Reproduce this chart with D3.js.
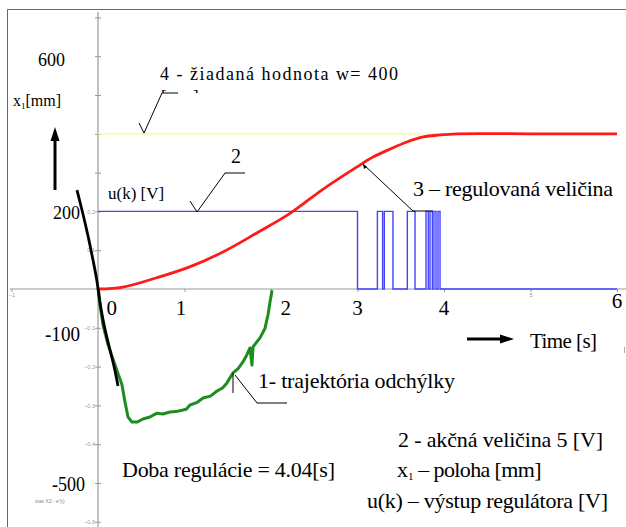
<!DOCTYPE html>
<html>
<head>
<meta charset="utf-8">
<script src="https://cdn.jsdelivr.net/npm/d3@7"></script>
<style>
  body { margin: 0; background: #fff; }
  text { font-family: "Liberation Serif", "Times New Roman", serif; }
</style>
</head>
<body>
<div id="chart"></div>
<script>
// --- data (time in s, values in scaled units: 0.1 = 100 mm / 1 V) ---
const setpoint = 0.4;

const posTime = [0, 0.29, 0.68, 1.06, 1.45, 1.84, 2.22, 2.6, 2.99, 3.18, 3.38, 3.57, 3.76, 3.95, 4.15, 5, 6];
const posValue = [0, 0.005, 0.029, 0.057, 0.096, 0.145, 0.195, 0.257, 0.314, 0.34, 0.361, 0.379, 0.392, 0.397, 0.4, 0.4, 0.4];

const uTime = [0, 3.0, 3.23, 3.29, 3.31, 3.41, 3.576, 3.665, 3.792, 3.818, 3.838, 3.865, 3.884, 3.908, 3.931, 3.954, 6];
const uValue = [0.2, 0, 0.2, 0, 0.2, 0, 0.2, 0, 0.2, 0, 0.2, 0, 0.2, 0, 0.2, 0, 0];

const errX = [0.003, 0.023, 0.058, 0.116, 0.197, 0.277, 0.312, 0.347, 0.393, 0.451, 0.52, 0.6, 0.682, 0.75, 0.832, 0.9, 0.983, 1.02, 1.064, 1.14, 1.214, 1.3, 1.376, 1.44, 1.491, 1.561, 1.62, 1.676, 1.72, 1.757, 1.78, 1.792, 1.873, 1.931, 1.965, 1.988, 2.012];
const errY = [0.003, -0.041, -0.093, -0.144, -0.196, -0.247, -0.291, -0.33, -0.343, -0.343, -0.335, -0.33, -0.32, -0.322, -0.317, -0.316, -0.312, -0.31, -0.299, -0.293, -0.281, -0.276, -0.263, -0.255, -0.242, -0.216, -0.205, -0.188, -0.17, -0.152, -0.196, -0.149, -0.126, -0.101, -0.067, -0.034, -0.003];

const slideX = [-0.243, -0.185, -0.116, -0.058, -0.012, 0, 0.035, 0.081, 0.139, 0.197, 0.231];
const slideY = [0.255, 0.204, 0.139, 0.075, 0.023, 0, -0.054, -0.106, -0.157, -0.209, -0.25];

const xTicks = [-1, 0, 1, 2, 3, 4, 5, 6];
const xTickLabelled = [-1, 2, 5];
const yTicks = [-0.6, -0.5, -0.4, -0.3, -0.2, -0.1, 0.1, 0.2, 0.3, 0.4, 0.5, 0.6, 0.7];
const yTickLabelled = [-0.6, -0.4, -0.3, -0.2, -0.1, 0.1, 0.2];
const timeLabels = ["0", "1", "2", "3", "4", "6"];
const timeLabelAt = [0.16, 0.96, 2.17, 3.0, 4.0, 6.0];

const width = 626, height = 527;

const svg = d3.select('#chart').append('svg')
    .attr('width', width)
    .attr('height', height);

svg.append('rect').attr('width', width).attr('height', height).attr('fill', '#fff');

const x = d3.scaleLinear().domain([0, 6]).range([98, 617]);
const y = d3.scaleLinear().domain([0, 0.1]).range([289, 250.2]);

// frame
svg.append('path')
    .attr('d', 'M7.5,527 V9.5 H626')
    .attr('fill', 'none')
    .attr('stroke', '#666')
    .attr('stroke-width', 1);

// axes
const xAxis = d3.axisBottom(x).tickValues(xTicks).tickSize(3)
    .tickFormat(d => xTickLabelled.includes(d) ? d3.format('d')(d) : '');
const yAxis = d3.axisLeft(y).tickValues(yTicks).tickSize(3)
    .tickFormat(d => yTickLabelled.some(v => Math.abs(v - d) < 1e-9) ? d3.format('.1f')(d) : '');

const gx = svg.append('g').attr('transform', `translate(0,${y(0)})`).call(xAxis);
gx.select('.domain').attr('d', `M10,0H${width}`);
const gy = svg.append('g').attr('transform', `translate(${x(0)},0)`).call(yAxis);
gy.select('.domain').attr('d', `M0,12V${height}`);
gy.selectAll('.tick line').attr('x1', 3);

[gx, gy].forEach(g => {
    g.select('.domain').attr('stroke', '#999').attr('stroke-width', 1.2);
    g.selectAll('.tick line').attr('stroke', '#999');
    g.selectAll('.tick text').attr('fill', '#999').style('font-size', '5.5px').style('font-family', 'Arial, sans-serif');
});
gx.selectAll('.tick text').attr('y', 4);
gy.selectAll('.tick text').attr('x', -3);

// curves
const line = d3.line().x(d => x(d[0])).y(d => y(d[1]));

svg.append('path')
    .attr('d', line([[0, setpoint], [6, setpoint]]))
    .attr('fill', 'none').attr('stroke', '#ffff88').attr('stroke-width', 1.6);

svg.append('path')
    .attr('d', line.curve(d3.curveStepAfter)(uTime.map((t, i) => [t, uValue[i]])))
    .attr('fill', 'none').attr('stroke', '#4444ff').attr('stroke-width', 1.4);

svg.append('path')
    .attr('d', line.curve(d3.curveCatmullRom)(posTime.map((t, i) => [t, posValue[i]])))
    .attr('fill', 'none').attr('stroke', '#ff1a1a').attr('stroke-width', 2.8);

svg.append('path')
    .attr('d', line.curve(d3.curveLinear)(errX.map((v, i) => [v, errY[i]])))
    .attr('fill', 'none').attr('stroke', '#1e8c1e').attr('stroke-width', 3)
    .attr('stroke-linejoin', 'round');

svg.append('path')
    .attr('d', line.curve(d3.curveBasis)(slideX.map((v, i) => [v, slideY[i]])))
    .attr('fill', 'none').attr('stroke', '#000').attr('stroke-width', 2.8);

// leader lines
const leader = (pts) => svg.append('polyline')
    .attr('points', pts.map(p => p.join(',')).join(' '))
    .attr('fill', 'none').attr('stroke', '#000').attr('stroke-width', 1);

leader([[139, 123], [144, 133], [162, 93], [178, 93]]);
leader([[190, 201], [197, 212], [225, 173], [245, 173]]);
leader([[363, 164], [413, 211], [433, 211]]);
leader([[233, 373], [233, 393]]);
leader([[235, 375], [257, 403], [287, 403]]);
svg.append('path').attr('d', 'M363,164 l1,5 l3,-2 z').attr('fill', '#000');

// arrows
svg.append('line').attr('x1', 55).attr('y1', 190).attr('x2', 55).attr('y2', 138)
    .attr('stroke', '#000').attr('stroke-width', 3);
svg.append('path').attr('d', 'M55,127 L50.5,141 L59.5,141 Z').attr('fill', '#000');
svg.append('line').attr('x1', 467).attr('y1', 339).attr('x2', 503).attr('y2', 339)
    .attr('stroke', '#000').attr('stroke-width', 3);
svg.append('path').attr('d', 'M514,339 L500,334.5 L500,343.5 Z').attr('fill', '#000');

// texts
const label = (tx, ty, str, size, anchor, len) => {
    const t = svg.append('text')
        .attr('x', tx).attr('y', ty)
        .attr('text-anchor', anchor || 'start')
        .style('font-size', size + 'px')
        .text(str);
    if (len) t.attr('textLength', len).attr('lengthAdjust', 'spacing');
    return t;
};

label(160, 80, '4 - žiadaná hodnota w= 400', 18, 'start', 238);
label(236, 163, '2', 20, 'middle');
label(108, 199, 'u(k) [V]', 17);
label(65, 66, '600', 18, 'end');
label(80, 219, '200', 18, 'end');
label(45, 341, '-100', 22, 'start', 35).attr('lengthAdjust', 'spacingAndGlyphs');
label(52, 491, '-500', 22, 'start', 33).attr('lengthAdjust', 'spacingAndGlyphs');
label(413, 196, '3 – regulovaná veličina', 22, 'start', 200);
label(258, 388, '1- trajektória odchýlky', 22, 'start', 197);
label(122, 477, 'Doba regulácie = 4.04[s]', 22, 'start', 213);
label(398, 447, '2 - akčná veličina 5 [V]', 22, 'start', 205);
label(367, 508, 'u(k) – výstup regulátora [V]', 22, 'start', 241);
label(530, 348, 'Time [s]', 21, 'start', 67);

const xl = svg.append('text').attr('x', 13).attr('y', 106).style('font-size', '16px');
xl.append('tspan').text('x');
xl.append('tspan').attr('dy', 3).style('font-size', '9px').text('1');
xl.append('tspan').attr('dy', -3).text('[mm]');

const pl = svg.append('text').attr('x', 397).attr('y', 477).style('font-size', '22px');
pl.append('tspan').text('x');
pl.append('tspan').attr('dy', 3).style('font-size', '11px').text('1');
pl.append('tspan').attr('dy', -3).attr('textLength', 128).text(' – poloha [mm]');

timeLabels.forEach((s, i) => label(x(timeLabelAt[i]), i === 5 ? 308 : 315, s, 21, 'middle'));

// clipped remnant of a hidden unit label
svg.append('clipPath').attr('id', 'cut').append('rect')
    .attr('x', 150).attr('y', 80).attr('width', 80).attr('height', 13);
svg.append('text').attr('x', 161).attr('y', 102).attr('clip-path', 'url(#cut)')
    .style('font-size', '17px').text('[mm]');

svg.append('text').attr('x', 35).attr('y', 503)
    .style('font-size', '5px').style('font-family', 'Arial, sans-serif')
    .attr('fill', '#888').text("stav X2 - e'(t)");
svg.append('line').attr('x1', 624.5).attr('y1', 347).attr('x2', 624.5).attr('y2', 353)
    .attr('stroke', '#aaa');
</script>
</body>
</html>
